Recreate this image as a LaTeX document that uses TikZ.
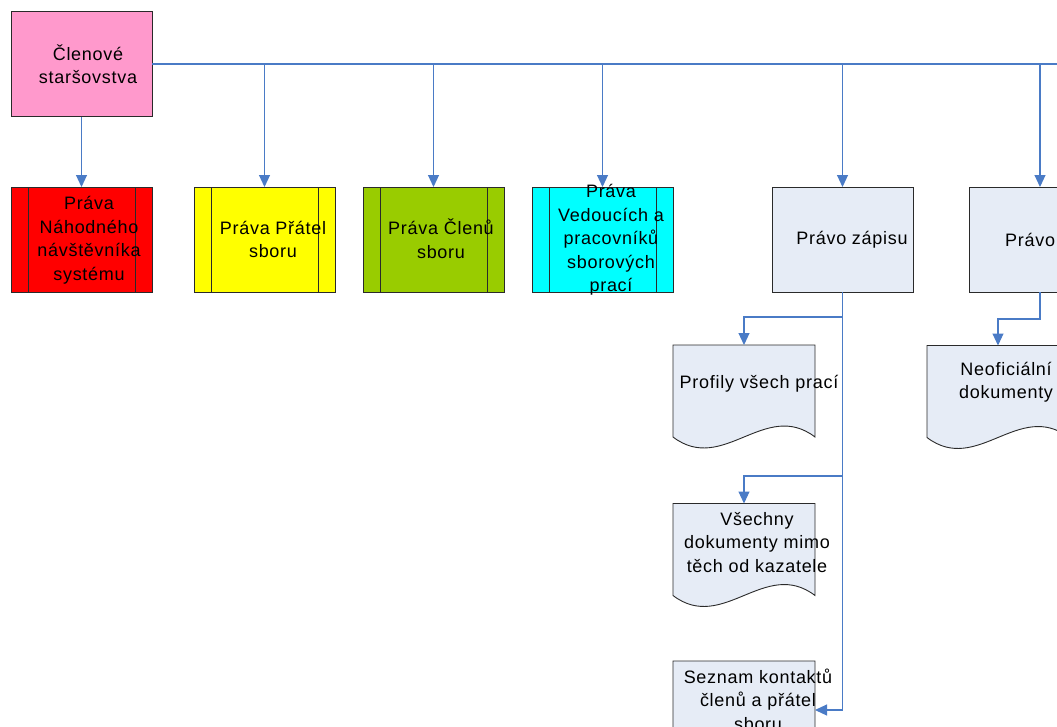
\documentclass[tikz,border=0pt]{standalone}
\usepackage{fontspec}
\setmainfont{Liberation Sans}[LetterSpace=4]
\usetikzlibrary{arrows.meta,calc}
\definecolor{pinkc}{HTML}{FF99CC}
\definecolor{redc}{HTML}{FF0000}
\definecolor{yellowc}{HTML}{FFFF00}
\definecolor{greenc}{HTML}{99CC00}
\definecolor{cyanc}{HTML}{00FFFF}
\definecolor{lightc}{HTML}{E6ECF6}
\definecolor{linec}{HTML}{4A7BC6}
\definecolor{edgec}{HTML}{2A2A2A}
\tikzset{
  box/.style={draw=edgec, line width=0.9pt, rectangle, inner sep=0pt, outer sep=0pt,
    minimum width=141pt, minimum height=105pt},
  docbox/.style={rectangle, inner sep=0pt, outer sep=0pt, minimum width=142pt, minimum height=92pt},
  txt/.style={align=center, inner sep=0pt, font=\fontsize{18}{23.5}\selectfont, text=black},
  conn/.style={draw=linec, line width=1.1pt},
  arr/.style={-{Triangle[width=11pt,length=12pt]}},
  docline/.style={draw=edgec, line width=0.9pt, fill=lightc}
}
\newcommand{\docshape}[1]{%
  \path[docline] (#1.north west) -- (#1.north east) -- (#1.south east)
    .. controls +(-50,-38) and +(50,38) .. (#1.south west) -- cycle;}
\newcommand{\procbars}[1]{%
  \draw[draw=edgec, line width=0.9pt] ([xshift=17pt]#1.north west) -- ([xshift=17pt]#1.south west)
    ([xshift=-17pt]#1.north east) -- ([xshift=-17pt]#1.south east);}
\begin{document}
\begin{tikzpicture}[x=1pt,y=-1pt]
\useasboundingbox (0,0) rectangle (1057,726);
\clip (0,0) rectangle (1057,726);
% boxes
\node[box, fill=pinkc] (root) at (81.5,64) {};
\node[box, fill=redc] (red) at (81.5,239.5) {};
\node[box, fill=yellowc] (yel) at (264.5,239.5) {};
\node[box, fill=greenc] (grn) at (433.5,239.5) {};
\node[box, fill=cyanc] (cya) at (602.5,239.5) {};
\node[box, fill=lightc] (zapis) at (842.5,239.5) {};
\node[box, fill=lightc] (prava2) at (1040,239.5) {};
\procbars{red}\procbars{yel}\procbars{grn}\procbars{cya}
% documents
\node[docbox] (doc1) at (744,391) {};
\node[docbox] (doc2) at (744,549.5) {};
\node[docbox] (doc3) at (998,391.5) {};
\node[docbox] (doc4) at (744,707) {};
\docshape{doc1}\docshape{doc2}\docshape{doc3}\docshape{doc4}
% texts
\node[txt] (t0) at (88,64) {Členové\\staršovstva};
\node[txt] (t1) at (89,240) {Práva\\Náhodného\\návštěvníka\\systému};
\node[txt] (t2) at (273,239.5) {Práva Přátel\\sboru};
\node[txt] (t3) at (441,238.5) {Práva Členů\\sboru};
\node[txt] (t4) at (611,240) {Práva\\Vedoucích a\\pracovníků\\sborových\\prací};
\node[txt] (t5) at (852,239.5) {Právo zápisu};
\node[txt, anchor=west] (t6) at (1005,239.5) {Právo};
\node[txt] (t7) at (759,384) {Profily všech prací};
\node[txt, anchor=west] (t8) at (959,382) {Neoficiální\\dokumenty};
\node[txt] (t9) at (757,542.5) {Všechny\\dokumenty mimo\\těch od kazatele};
\node[txt] (t10) at (758,699.5) {Seznam kontaktů\\členů a přátel\\sboru};
% connectors
\draw[conn, arr] (root.south) -- (red.north);
\coordinate (hend) at (1057,64);
\draw[conn] (root.east) -- (hend);
\draw[conn, arr] (yel.north |- root.east) -- (yel.north);
\draw[conn, arr] (grn.north |- root.east) -- (grn.north);
\draw[conn, arr] (cya.north |- root.east) -- (cya.north);
\draw[conn, arr] (zapis.north |- root.east) -- (zapis.north);
\draw[conn, arr] (prava2.north |- root.east) -- (prava2.north);
\draw[conn, arr] (zapis.south) -- ++(0,25) -| (doc1.north);
\draw[conn, arr] (zapis.south) -- ++(0,184) -| (doc2.north);
\draw[conn, arr] (zapis.south) |- ([yshift=-3pt]doc4.east);
\draw[conn, arr] (prava2.south) -- ++(0,27) -| (doc3.north);
\end{tikzpicture}
\end{document}
